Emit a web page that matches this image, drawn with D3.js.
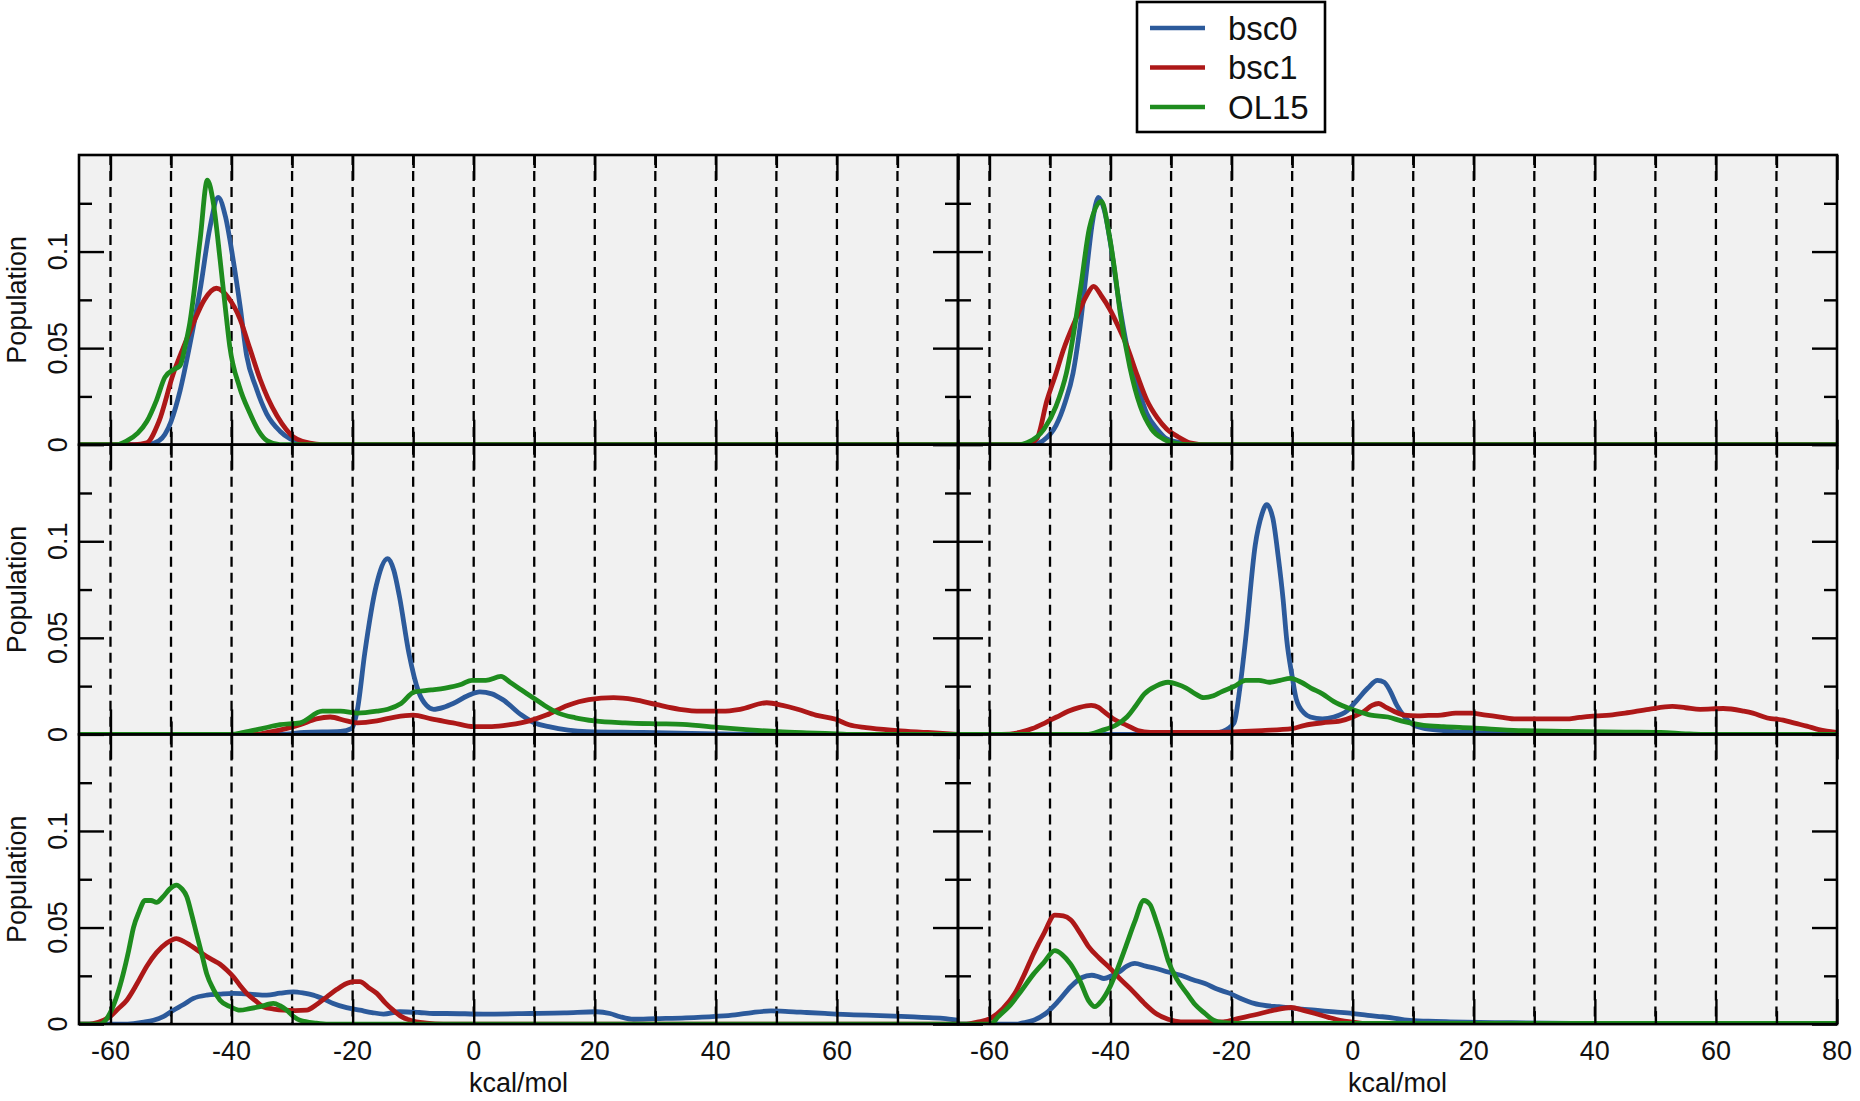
<!DOCTYPE html>
<html><head><meta charset="utf-8">
<script src="https://cdn.jsdelivr.net/npm/d3@7"></script>
<style>body{margin:0;background:#fff}svg{display:block}</style>
</head><body>
<svg id="chart" width="1860" height="1101"></svg>
<script>
// ---------------- data ----------------
const seriesNames = ["bsc0", "bsc1", "OL15"];
const seriesColors = ["#2c5a9b", "#ad1818", "#1e8c1e"];
const xGridValues = [-60,-50,-40,-30,-20,-10,0,10,20,30,40,50,60,70];
const xMajorTicks = [-60,-40,-20,0,20,40,60,80];
const xMinorTicks = [-50,-30,-10,10,30,50,70];
const xTickLabelsLeft = [-60,-40,-20,0,20,40,60];
const xTickLabelsRight = [-60,-40,-20,0,20,40,60,80];
const yMajorTicks = [0, 0.05, 0.1];
const yMinorTicks = [0.025, 0.075, 0.125];
const yTickLabels = ["0", "0.05", "0.1"];
const xLabel = "kcal/mol";
const yLabel = "Population";

// top-left panel
const r1L_bsc0 = [[-65,0],[-54,0],[-52,0.002],[-50,0.012],[-48.5,0.028],[-47,0.05],[-45.2,0.080],[-43.6,0.112],[-42.2,0.128],[-41,0.118],[-39.8,0.097],[-38.6,0.072],[-37.5,0.046],[-36,0.030],[-34.2,0.016],[-32,0.007],[-30.3,0.003],[-28,0.001],[-25,0],[79.9,0]];
const r1L_bsc1 = [[-65,0],[-56,0],[-54,0.001],[-52,0.012],[-49.6,0.037],[-48,0.050],[-46.3,0.063],[-44.5,0.075],[-42.5,0.081],[-40.5,0.076],[-38.6,0.065],[-37,0.050],[-35.3,0.034],[-34,0.024],[-32.5,0.015],[-31,0.008],[-29.8,0.004],[-28,0.0015],[-26,0.0003],[-24,0],[79.9,0]];
const r1L_OL15 = [[-65,0],[-59,0],[-57.3,0.002],[-55.5,0.006],[-54,0.012],[-52.4,0.023],[-51,0.035],[-49.5,0.039],[-48.5,0.041],[-47.6,0.052],[-46.9,0.063],[-45.2,0.106],[-44,0.137],[-43,0.125],[-41.9,0.096],[-41,0.070],[-40.3,0.051],[-38.7,0.030],[-37,0.0165],[-35.5,0.007],[-34.1,0.002],[-32,0],[79.9,0]];
// top-right panel
const r1R_bsc0 = [[-65,0],[-53,0],[-51.2,0.002],[-49,0.010],[-47.5,0.022],[-46.2,0.037],[-45,0.062],[-44,0.089],[-43,0.115],[-42,0.128],[-41,0.121],[-40.1,0.106],[-38.8,0.078],[-37.3,0.051],[-35.5,0.030],[-34,0.016],[-32.3,0.008],[-30.7,0.003],[-28,0.0008],[-25,0],[79.9,0]];
const r1R_bsc1 = [[-65,0],[-54,0],[-52.2,0.003],[-50.5,0.023],[-49,0.037],[-47.8,0.049],[-45.6,0.066],[-44,0.077],[-42.8,0.082],[-41.5,0.077],[-40.1,0.070],[-38.7,0.061],[-37.3,0.051],[-35.6,0.036],[-34,0.023],[-32.3,0.014],[-30.7,0.008],[-28.8,0.004],[-26.9,0.001],[-24,0],[79.9,0]];
const r1R_OL15 = [[-65,0],[-55,0],[-53.8,0.001],[-51,0.008],[-49,0.020],[-47.3,0.037],[-45,0.080],[-43.5,0.112],[-41.5,0.126],[-40.3,0.110],[-39.3,0.090],[-38.4,0.068],[-36.8,0.040],[-35.1,0.020],[-33.2,0.008],[-31.3,0.003],[-29,0.0005],[-27,0],[79.9,0]];
// middle-left panel
const r2L_bsc0 = [[-65,0],[-32,0],[-28,0.001],[-22,0.0015],[-20.2,0.003],[-19.2,0.013],[-18,0.042],[-16.1,0.077],[-14.2,0.091],[-13.2,0.085],[-12.3,0.072],[-10.7,0.042],[-9.1,0.022],[-7.8,0.015],[-6.6,0.013],[-5,0.014],[-3.4,0.016],[-1,0.020],[1,0.022],[3,0.021],[4.8,0.018],[7.9,0.010],[10,0.006],[12.4,0.004],[18.7,0.0014],[28,0.001],[40,0.0003],[50,0],[79.9,0]];
const r2L_bsc1 = [[-65,0],[-36,0],[-34,0.001],[-31,0.003],[-28.7,0.005],[-26,0.008],[-23.7,0.009],[-21,0.007],[-19.2,0.006],[-16,0.007],[-13,0.009],[-10,0.010],[-7,0.008],[-3.4,0.006],[0,0.004],[3,0.004],[6,0.005],[9.2,0.007],[12,0.010],[15.5,0.015],[19,0.018],[23.1,0.019],[26.5,0.018],[30.1,0.0155],[34,0.013],[37.6,0.012],[41,0.012],[44,0.013],[48.4,0.0164],[51,0.015],[53.5,0.013],[56.5,0.010],[59.8,0.0078],[62,0.005],[64.8,0.0035],[69.9,0.002],[75,0.001],[79.9,0]];
const r2L_OL15 = [[-65,0],[-40,0],[-38,0.001],[-35,0.003],[-32,0.005],[-28.7,0.006],[-25,0.012],[-22,0.012],[-19.2,0.011],[-16,0.012],[-14.2,0.013],[-12,0.016],[-9.8,0.022],[-7,0.023],[-4.7,0.024],[-2,0.026],[-0.3,0.028],[2,0.028],[4.5,0.030],[6,0.027],[7.9,0.023],[9.8,0.019],[11.7,0.015],[14,0.011],[16.8,0.0086],[20,0.007],[25,0.006],[30,0.0055],[34.5,0.0052],[40.8,0.0035],[45,0.0025],[50.3,0.0014],[55,0.0008],[60,0.0003],[63,0],[79.9,0]];
// middle-right panel
const r2R_bsc0 = [[-65,0],[-24,0],[-21.5,0.0015],[-19.6,0.006],[-18.6,0.025],[-17.7,0.049],[-16.1,0.098],[-15,0.114],[-14.2,0.119],[-13.2,0.112],[-12.3,0.092],[-11.5,0.070],[-10.9,0.049],[-10,0.030],[-9.3,0.018],[-8,0.011],[-7,0.009],[-5,0.008],[-3.1,0.009],[-1,0.012],[0.8,0.018],[2.5,0.024],[4.1,0.028],[5.2,0.027],[6.1,0.023],[7.3,0.015],[8.6,0.009],[10,0.005],[11.5,0.0034],[15,0.002],[19.3,0.001],[30,0.0003],[40,0],[79.9,0]];
const r2R_bsc1 = [[-65,0],[-58,0],[-55,0.001],[-52.9,0.003],[-50.8,0.006],[-48.9,0.009],[-47,0.012],[-45.1,0.014],[-43.2,0.015],[-42,0.014],[-41.2,0.012],[-39.5,0.008],[-37.3,0.0047],[-35.5,0.002],[-33.4,0.001],[-25,0.001],[-15,0.002],[-10,0.003],[-7.9,0.0047],[-5,0.006],[-2,0.007],[0,0.009],[1.9,0.012],[3.2,0.015],[4.3,0.016],[5.5,0.014],[6.8,0.012],[8.5,0.010],[10.7,0.0096],[12.5,0.0098],[14.6,0.010],[17,0.011],[19.5,0.011],[22,0.010],[24.4,0.009],[27,0.008],[29.3,0.008],[32,0.008],[35.2,0.008],[37.5,0.0088],[40.1,0.0096],[42.5,0.010],[45,0.011],[48.9,0.013],[52.8,0.0145],[55,0.0138],[57.4,0.013],[61.2,0.0134],[64.6,0.012],[66.1,0.011],[68.5,0.0085],[71.1,0.0074],[73,0.0058],[75,0.0043],[77,0.0025],[78.3,0.0017],[79.9,0.001]];
const r2R_OL15 = [[-65,0],[-44,0],[-41.5,0.002],[-39,0.005],[-37.3,0.009],[-35.8,0.015],[-34.4,0.021],[-32.5,0.025],[-30.5,0.027],[-29,0.026],[-27.5,0.024],[-26,0.021],[-24.6,0.019],[-23,0.020],[-21.7,0.022],[-19.5,0.025],[-17.7,0.028],[-15.5,0.028],[-13.8,0.027],[-12,0.028],[-10.3,0.029],[-8.5,0.027],[-6.9,0.024],[-5,0.021],[-3.1,0.017],[-1,0.014],[0.8,0.012],[3,0.010],[5.8,0.009],[8,0.007],[11.7,0.0047],[15,0.004],[19.5,0.0034],[27.4,0.002],[35.2,0.0016],[45,0.0012],[50.9,0.001],[55,0.0003],[58,0],[79.9,0]];
// bottom-left panel
const r3L_bsc0 = [[-65,0],[-58,0],[-56.2,0.0003],[-54.5,0.001],[-52.9,0.002],[-51.2,0.004],[-49.6,0.0072],[-48,0.010],[-46.3,0.0133],[-44.1,0.015],[-42,0.0155],[-39.7,0.0159],[-37,0.0155],[-34.2,0.015],[-32,0.016],[-29.8,0.0167],[-28,0.016],[-26.5,0.015],[-24.8,0.013],[-23.2,0.0107],[-21,0.0085],[-18.8,0.0072],[-16.8,0.006],[-14.9,0.0052],[-12.2,0.0064],[-9,0.006],[-6.7,0.0055],[-4.5,0.0055],[1.6,0.0052],[9.3,0.0055],[15,0.0058],[20.3,0.0064],[22.5,0.0055],[24.2,0.0038],[26.4,0.0025],[30,0.0028],[35,0.0032],[40,0.004],[43.2,0.0048],[46,0.006],[49.1,0.0068],[52,0.0065],[55,0.006],[58,0.0055],[62.8,0.0048],[66,0.0045],[70.6,0.004],[74,0.0035],[77.5,0.003],[79.9,0.002]];
const r3L_bsc1 = [[-65,0],[-63.5,0],[-62,0.001],[-60.1,0.0038],[-58.7,0.008],[-57.3,0.0124],[-55.6,0.021],[-54,0.030],[-52.4,0.037],[-50.7,0.042],[-49.1,0.0443],[-48,0.043],[-46.9,0.041],[-45.5,0.038],[-44.1,0.035],[-43,0.033],[-41.9,0.031],[-40.8,0.028],[-39.7,0.0245],[-38.6,0.020],[-37.5,0.0159],[-36,0.012],[-34.8,0.009],[-33,0.0078],[-31.4,0.0072],[-29.5,0.007],[-27.6,0.0072],[-26,0.010],[-24.3,0.014],[-22.6,0.018],[-21,0.021],[-19.9,0.022],[-18.8,0.022],[-17.4,0.019],[-16,0.0159],[-14.6,0.011],[-13.3,0.0072],[-12,0.004],[-10.5,0.002],[-7.8,0.0005],[-5,0],[79.9,0]];
const r3L_OL15 = [[-65,0],[-61.7,0],[-60.1,0.0055],[-59,0.014],[-57.9,0.026],[-57,0.038],[-56.2,0.050],[-55.3,0.058],[-54.3,0.064],[-53.3,0.064],[-52.4,0.063],[-51.3,0.066],[-50.2,0.070],[-49.1,0.072],[-48.2,0.070],[-47.4,0.066],[-46.6,0.057],[-45.8,0.047],[-44.9,0.036],[-44.1,0.026],[-43,0.018],[-41.9,0.0124],[-40.2,0.009],[-38.6,0.0072],[-37,0.008],[-35.3,0.009],[-33.1,0.0107],[-32,0.0095],[-30.9,0.0072],[-29.8,0.004],[-28.7,0.002],[-26,0.0005],[-24,0],[79.9,0]];
// bottom-right panel
const r3R_bsc0 = [[-65,0],[-55.5,0],[-54.7,0.0005],[-52.7,0.002],[-50.7,0.0055],[-48.6,0.012],[-46.6,0.0193],[-44.8,0.024],[-43.1,0.0253],[-42,0.0245],[-41.1,0.0236],[-39.8,0.025],[-38.6,0.027],[-37.3,0.030],[-36,0.0314],[-34.2,0.030],[-32.5,0.0288],[-30.5,0.027],[-28.4,0.0253],[-26.4,0.023],[-24.4,0.021],[-22.3,0.018],[-20.3,0.0159],[-18.3,0.013],[-16.3,0.0107],[-14.2,0.0095],[-12.2,0.009],[-9.2,0.008],[-6.2,0.0072],[-3,0.0063],[-0.1,0.0055],[2.5,0.0045],[4.9,0.0038],[7,0.003],[9,0.002],[12.5,0.0015],[16.1,0.0012],[26.2,0.0007],[36.3,0.0003],[45,0],[79.9,0]];
const r3R_bsc1 = [[-65,0],[-63.8,0],[-62,0.001],[-59.8,0.003],[-57.8,0.008],[-55.8,0.016],[-54.2,0.026],[-52.7,0.0366],[-51,0.047],[-49.2,0.0564],[-47.8,0.056],[-46.6,0.054],[-45,0.047],[-43.6,0.040],[-41.8,0.034],[-40.1,0.029],[-38.3,0.023],[-36.5,0.0176],[-34.5,0.011],[-32.5,0.0055],[-30.5,0.0025],[-28.4,0.0012],[-21.4,0.0012],[-18.8,0.003],[-16.3,0.0047],[-13,0.0072],[-10.2,0.0086],[-8,0.007],[-6.2,0.0055],[-4,0.0035],[-2.1,0.002],[0,0.001],[1.9,0.0003],[5,0],[79.9,0]];
const r3R_OL15 = [[-65,0],[-59.8,0],[-58.5,0.004],[-56.8,0.009],[-54.8,0.017],[-52.7,0.026],[-51,0.032],[-49.2,0.038],[-48,0.036],[-46.6,0.031],[-45,0.022],[-43.6,0.012],[-42.6,0.009],[-41.5,0.012],[-40.1,0.0193],[-38.8,0.029],[-37.5,0.040],[-36,0.053],[-34.5,0.064],[-33.5,0.062],[-32.5,0.0538],[-31.5,0.044],[-30.5,0.033],[-29,0.023],[-27.4,0.0159],[-26,0.010],[-24.4,0.0055],[-23,0.002],[-21.4,0.0007],[-19,0.0003],[79.9,0.0003]];

const panels = [
  {row:0, col:0, series:[r1L_bsc0, r1L_bsc1, r1L_OL15]},
  {row:0, col:1, series:[r1R_bsc0, r1R_bsc1, r1R_OL15]},
  {row:1, col:0, series:[r2L_bsc0, r2L_bsc1, r2L_OL15]},
  {row:1, col:1, series:[r2R_bsc0, r2R_bsc1, r2R_OL15]},
  {row:2, col:0, series:[r3L_bsc0, r3L_bsc1, r3L_OL15]},
  {row:2, col:1, series:[r3R_bsc0, r3R_bsc1, r3R_OL15]}
];

// ---------------- layout ----------------
const FONT = "'Liberation Sans', Arial, Helvetica, sans-serif";
const colLeft = [79, 958], colWidth = 879;
const rowTop0 = 155, rowHeight = 289.7;
const xDomain = [-65.2, 80], yDomain = [0, 0.15];
const MAJOR = 25, MINOR = 13;

const svg = d3.select("#chart");
svg.append("rect").attr("width",1860).attr("height",1101).attr("fill","#fff");

const defs = svg.append("defs");

function xScale(col){ return d3.scaleLinear().domain(xDomain).range([colLeft[col], colLeft[col]+colWidth]); }
function yScale(row){ const t = rowTop0 + row*rowHeight; return d3.scaleLinear().domain(yDomain).range([t+rowHeight, t]); }

// backgrounds + grid
panels.forEach((p,i) => {
  const x = xScale(p.col), y = yScale(p.row);
  const x0 = x.range()[0], x1 = x.range()[1], yb = y.range()[0], yt = y.range()[1];
  svg.append("rect").attr("x",x0).attr("y",yt).attr("width",x1-x0).attr("height",yb-yt).attr("fill","#f1f1f1");
  defs.append("clipPath").attr("id","clip"+i).append("rect")
    .attr("x",x0).attr("y",yt).attr("width",x1-x0).attr("height",yb-yt);
  svg.append("g").selectAll("line").data(xGridValues).join("line")
    .attr("x1",d=>x(d)).attr("x2",d=>x(d)).attr("y1",yt).attr("y2",yb)
    .attr("stroke","#000").attr("stroke-width",2.3).attr("stroke-dasharray","10,6");
});

// curves
panels.forEach((p,i) => {
  const x = xScale(p.col), y = yScale(p.row);
  const line = d3.line().x(d=>x(d[0])).y(d=>y(d[1])).curve(d3.curveMonotoneX);
  const g = svg.append("g").attr("clip-path","url(#clip"+i+")");
  p.series.forEach((s,k) => {
    g.append("path").datum(s).attr("d",line).attr("fill","none")
      .attr("stroke",seriesColors[k]).attr("stroke-width",4.8)
      .attr("stroke-linejoin","round").attr("stroke-linecap","round");
  });
});

// frames and ticks (inward on all sides)
panels.forEach((p) => {
  const x = xScale(p.col), y = yScale(p.row);
  const x0 = x.range()[0], x1 = x.range()[1], yb = y.range()[0], yt = y.range()[1];
  const g = svg.append("g");
  const noDomain = sel => sel.selectAll(".domain").remove();
  const style = sel => sel.selectAll("line").attr("stroke","#000").attr("stroke-width",2.4);
  g.append("g").attr("transform",`translate(0,${yb})`).call(d3.axisBottom(x).tickValues(xMajorTicks).tickSize(-MAJOR).tickFormat("")).call(noDomain).call(style);
  g.append("g").attr("transform",`translate(0,${yb})`).call(d3.axisBottom(x).tickValues(xMinorTicks).tickSize(-MINOR).tickFormat("")).call(noDomain).call(style);
  g.append("g").attr("transform",`translate(0,${yt})`).call(d3.axisTop(x).tickValues(xMajorTicks).tickSize(-MAJOR).tickFormat("")).call(noDomain).call(style);
  g.append("g").attr("transform",`translate(0,${yt})`).call(d3.axisTop(x).tickValues(xMinorTicks).tickSize(-MINOR).tickFormat("")).call(noDomain).call(style);
  g.append("g").attr("transform",`translate(${x0},0)`).call(d3.axisLeft(y).tickValues(yMajorTicks).tickSize(-MAJOR).tickFormat("")).call(noDomain).call(style);
  g.append("g").attr("transform",`translate(${x0},0)`).call(d3.axisLeft(y).tickValues(yMinorTicks).tickSize(-MINOR).tickFormat("")).call(noDomain).call(style);
  g.append("g").attr("transform",`translate(${x1},0)`).call(d3.axisRight(y).tickValues(yMajorTicks).tickSize(-MAJOR).tickFormat("")).call(noDomain).call(style);
  g.append("g").attr("transform",`translate(${x1},0)`).call(d3.axisRight(y).tickValues(yMinorTicks).tickSize(-MINOR).tickFormat("")).call(noDomain).call(style);
  g.append("rect").attr("x",x0).attr("y",yt).attr("width",x1-x0).attr("height",yb-yt)
    .attr("fill","none").attr("stroke","#000").attr("stroke-width",2.6);
});

// y tick labels and y axis titles (left column only)
[0,1,2].forEach(row => {
  const y = yScale(row);
  svg.append("g").selectAll("text").data(yMajorTicks).join("text")
    .attr("transform",(d)=>`translate(67,${y(d)}) rotate(-90)`)
    .attr("text-anchor","middle").attr("font-family",FONT).attr("font-size",27).attr("fill","#111")
    .text((d,i)=>yTickLabels[i]);
  const mid = (y.range()[0]+y.range()[1])/2;
  svg.append("text").attr("transform",`translate(26,${mid}) rotate(-90)`)
    .attr("text-anchor","middle").attr("font-family",FONT).attr("font-size",27).attr("fill","#111")
    .text(yLabel);
});

// x tick labels and titles (bottom row)
[[0,xTickLabelsLeft],[1,xTickLabelsRight]].forEach(([col,labels]) => {
  const x = xScale(col);
  const yb = yScale(2).range()[0];
  svg.append("g").selectAll("text").data(labels).join("text")
    .attr("x",d=>x(d)).attr("y",yb+36).attr("text-anchor","middle")
    .attr("font-family",FONT).attr("font-size",27).attr("fill","#111").text(d=>d);
  svg.append("text").attr("x",(x.range()[0]+x.range()[1])/2).attr("y",yb+68)
    .attr("text-anchor","middle").attr("font-family",FONT).attr("font-size",27).attr("fill","#111").text(xLabel);
});

// legend
const lg = svg.append("g");
lg.append("rect").attr("x",1137).attr("y",2).attr("width",188).attr("height",130)
  .attr("fill","#fff").attr("stroke","#000").attr("stroke-width",2.6);
const legendY = d3.scalePoint().domain(seriesNames).range([28,107]);
seriesNames.forEach((n,k) => {
  lg.append("line").attr("x1",1150).attr("x2",1205).attr("y1",legendY(n)).attr("y2",legendY(n))
    .attr("stroke",seriesColors[k]).attr("stroke-width",4.5);
  lg.append("text").attr("x",1228).attr("y",legendY(n)).attr("dy","0.36em")
    .attr("font-family",FONT).attr("font-size",33).attr("fill","#111").text(n);
});
</script>
</body></html>
